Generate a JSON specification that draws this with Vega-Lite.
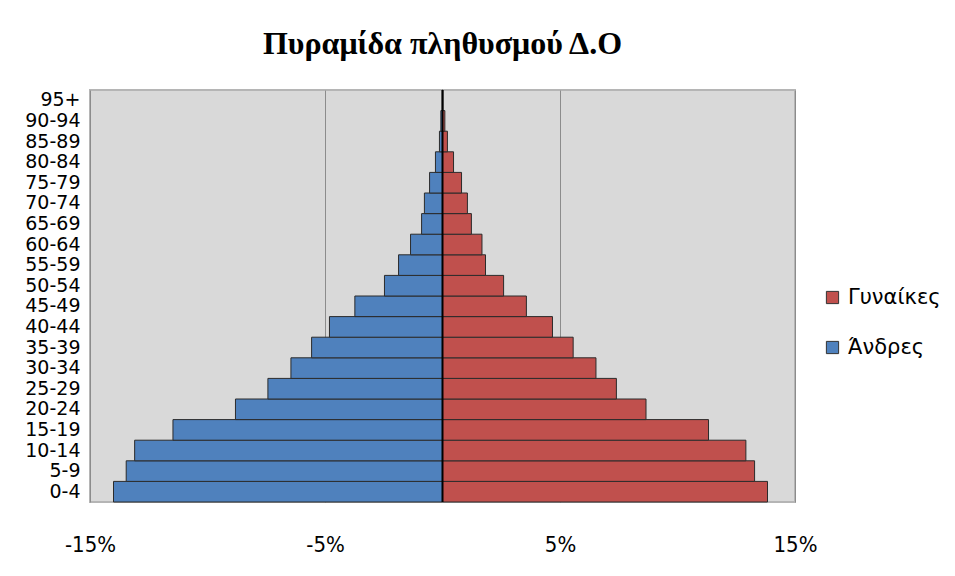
{
  "$schema": "https://vega.github.io/schema/vega-lite/v6.json",
  "autosize": "none",
  "width": 705,
  "height": 412,
  "padding": {"left": 90, "top": 90, "right": 160, "bottom": 74},
  "background": "white",
  "title": {
    "text": "Πυραμίδα πληθυσμού Δ.Ο",
    "font": "Liberation Serif",
    "fontSize": 32,
    "fontWeight": "bold",
    "color": "#000000",
    "offset": 28,
    "anchor": "middle"
  },
  "config": {
    "view": {"fill": "#d9d9d9", "stroke": "#b5b5b5", "strokeWidth": 2}
  },
  "data": {
    "values": [
      {"age": "0-4", "sex": "Άνδρες", "value": -14.0},
      {"age": "5-9", "sex": "Άνδρες", "value": -13.46},
      {"age": "10-14", "sex": "Άνδρες", "value": -13.1},
      {"age": "15-19", "sex": "Άνδρες", "value": -11.47},
      {"age": "20-24", "sex": "Άνδρες", "value": -8.81},
      {"age": "25-29", "sex": "Άνδρες", "value": -7.43},
      {"age": "30-34", "sex": "Άνδρες", "value": -6.45},
      {"age": "35-39", "sex": "Άνδρες", "value": -5.57},
      {"age": "40-44", "sex": "Άνδρες", "value": -4.81},
      {"age": "45-49", "sex": "Άνδρες", "value": -3.73},
      {"age": "50-54", "sex": "Άνδρες", "value": -2.47},
      {"age": "55-59", "sex": "Άνδρες", "value": -1.87},
      {"age": "60-64", "sex": "Άνδρες", "value": -1.36},
      {"age": "65-69", "sex": "Άνδρες", "value": -0.89},
      {"age": "70-74", "sex": "Άνδρες", "value": -0.77},
      {"age": "75-79", "sex": "Άνδρες", "value": -0.55},
      {"age": "80-84", "sex": "Άνδρες", "value": -0.3},
      {"age": "85-89", "sex": "Άνδρες", "value": -0.13},
      {"age": "90-94", "sex": "Άνδρες", "value": -0.07},
      {"age": "95+", "sex": "Άνδρες", "value": -0.01},
      {"age": "0-4", "sex": "Γυναίκες", "value": 13.83},
      {"age": "5-9", "sex": "Γυναίκες", "value": 13.28},
      {"age": "10-14", "sex": "Γυναίκες", "value": 12.91},
      {"age": "15-19", "sex": "Γυναίκες", "value": 11.32},
      {"age": "20-24", "sex": "Γυναίκες", "value": 8.66},
      {"age": "25-29", "sex": "Γυναίκες", "value": 7.4},
      {"age": "30-34", "sex": "Γυναίκες", "value": 6.53},
      {"age": "35-39", "sex": "Γυναίκες", "value": 5.56},
      {"age": "40-44", "sex": "Γυναίκες", "value": 4.68},
      {"age": "45-49", "sex": "Γυναίκες", "value": 3.57},
      {"age": "50-54", "sex": "Γυναίκες", "value": 2.6},
      {"age": "55-59", "sex": "Γυναίκες", "value": 1.83},
      {"age": "60-64", "sex": "Γυναίκες", "value": 1.68},
      {"age": "65-69", "sex": "Γυναίκες", "value": 1.23},
      {"age": "70-74", "sex": "Γυναίκες", "value": 1.06},
      {"age": "75-79", "sex": "Γυναίκες", "value": 0.81},
      {"age": "80-84", "sex": "Γυναίκες", "value": 0.47},
      {"age": "85-89", "sex": "Γυναίκες", "value": 0.21},
      {"age": "90-94", "sex": "Γυναίκες", "value": 0.1},
      {"age": "95+", "sex": "Γυναίκες", "value": 0.02}
    ]
  },
  "layer": [
    {
      "mark": {"type": "bar", "stroke": "#2b2b2b", "strokeWidth": 1},
      "encoding": {
        "y": {
          "field": "age",
          "type": "nominal",
          "sort": ["95+", "90-94", "85-89", "80-84", "75-79", "70-74", "65-69", "60-64", "55-59", "50-54", "45-49", "40-44", "35-39", "30-34", "25-29", "20-24", "15-19", "10-14", "5-9", "0-4"],
          "scale": {"paddingInner": 0, "paddingOuter": 0},
          "axis": {
            "title": null,
            "domain": false,
            "ticks": false,
            "labelFont": "DejaVu Sans",
            "labelFontSize": 19,
            "labelColor": "#000000",
            "labelPadding": 10,
            "labelOverlap": false,
            "labelBound": false
          }
        },
        "x": {
          "field": "value",
          "type": "quantitative",
          "stack": null,
          "scale": {"domain": [-15, 15], "nice": false},
          "axis": {
            "title": null,
            "values": [-15, -5, 5, 15],
            "labelExpr": "datum.value + '%'",
            "grid": true,
            "gridColor": "#8c8c8c",
            "gridWidth": 1,
            "domain": false,
            "ticks": false,
            "labelFont": "Liberation Sans Narrow, DejaVu Sans Condensed, sans-serif",
            "labelFontSize": 22,
            "labelColor": "#000000",
            "labelPadding": 32,
            "labelFlush": false
          }
        },
        "color": {
          "field": "sex",
          "type": "nominal",
          "scale": {"domain": ["Γυναίκες", "Άνδρες"], "range": ["#C0504D", "#4F81BD"]},
          "legend": {
            "title": null,
            "orient": "none",
            "legendX": 732,
            "legendY": 197,
            "symbolType": "square",
            "symbolSize": 150,
            "symbolStrokeColor": "#333333",
            "symbolStrokeWidth": 1,
            "labelFont": "DejaVu Sans",
            "labelFontSize": 21,
            "labelColor": "#000000",
            "labelOffset": 5,
            "rowPadding": 28
          }
        }
      }
    },
    {
      "mark": {"type": "rule", "color": "#000000", "strokeWidth": 2},
      "data": {"values": [{"zero": 0}]},
      "encoding": {
        "x": {"field": "zero", "type": "quantitative"}
      }
    }
  ]
}
